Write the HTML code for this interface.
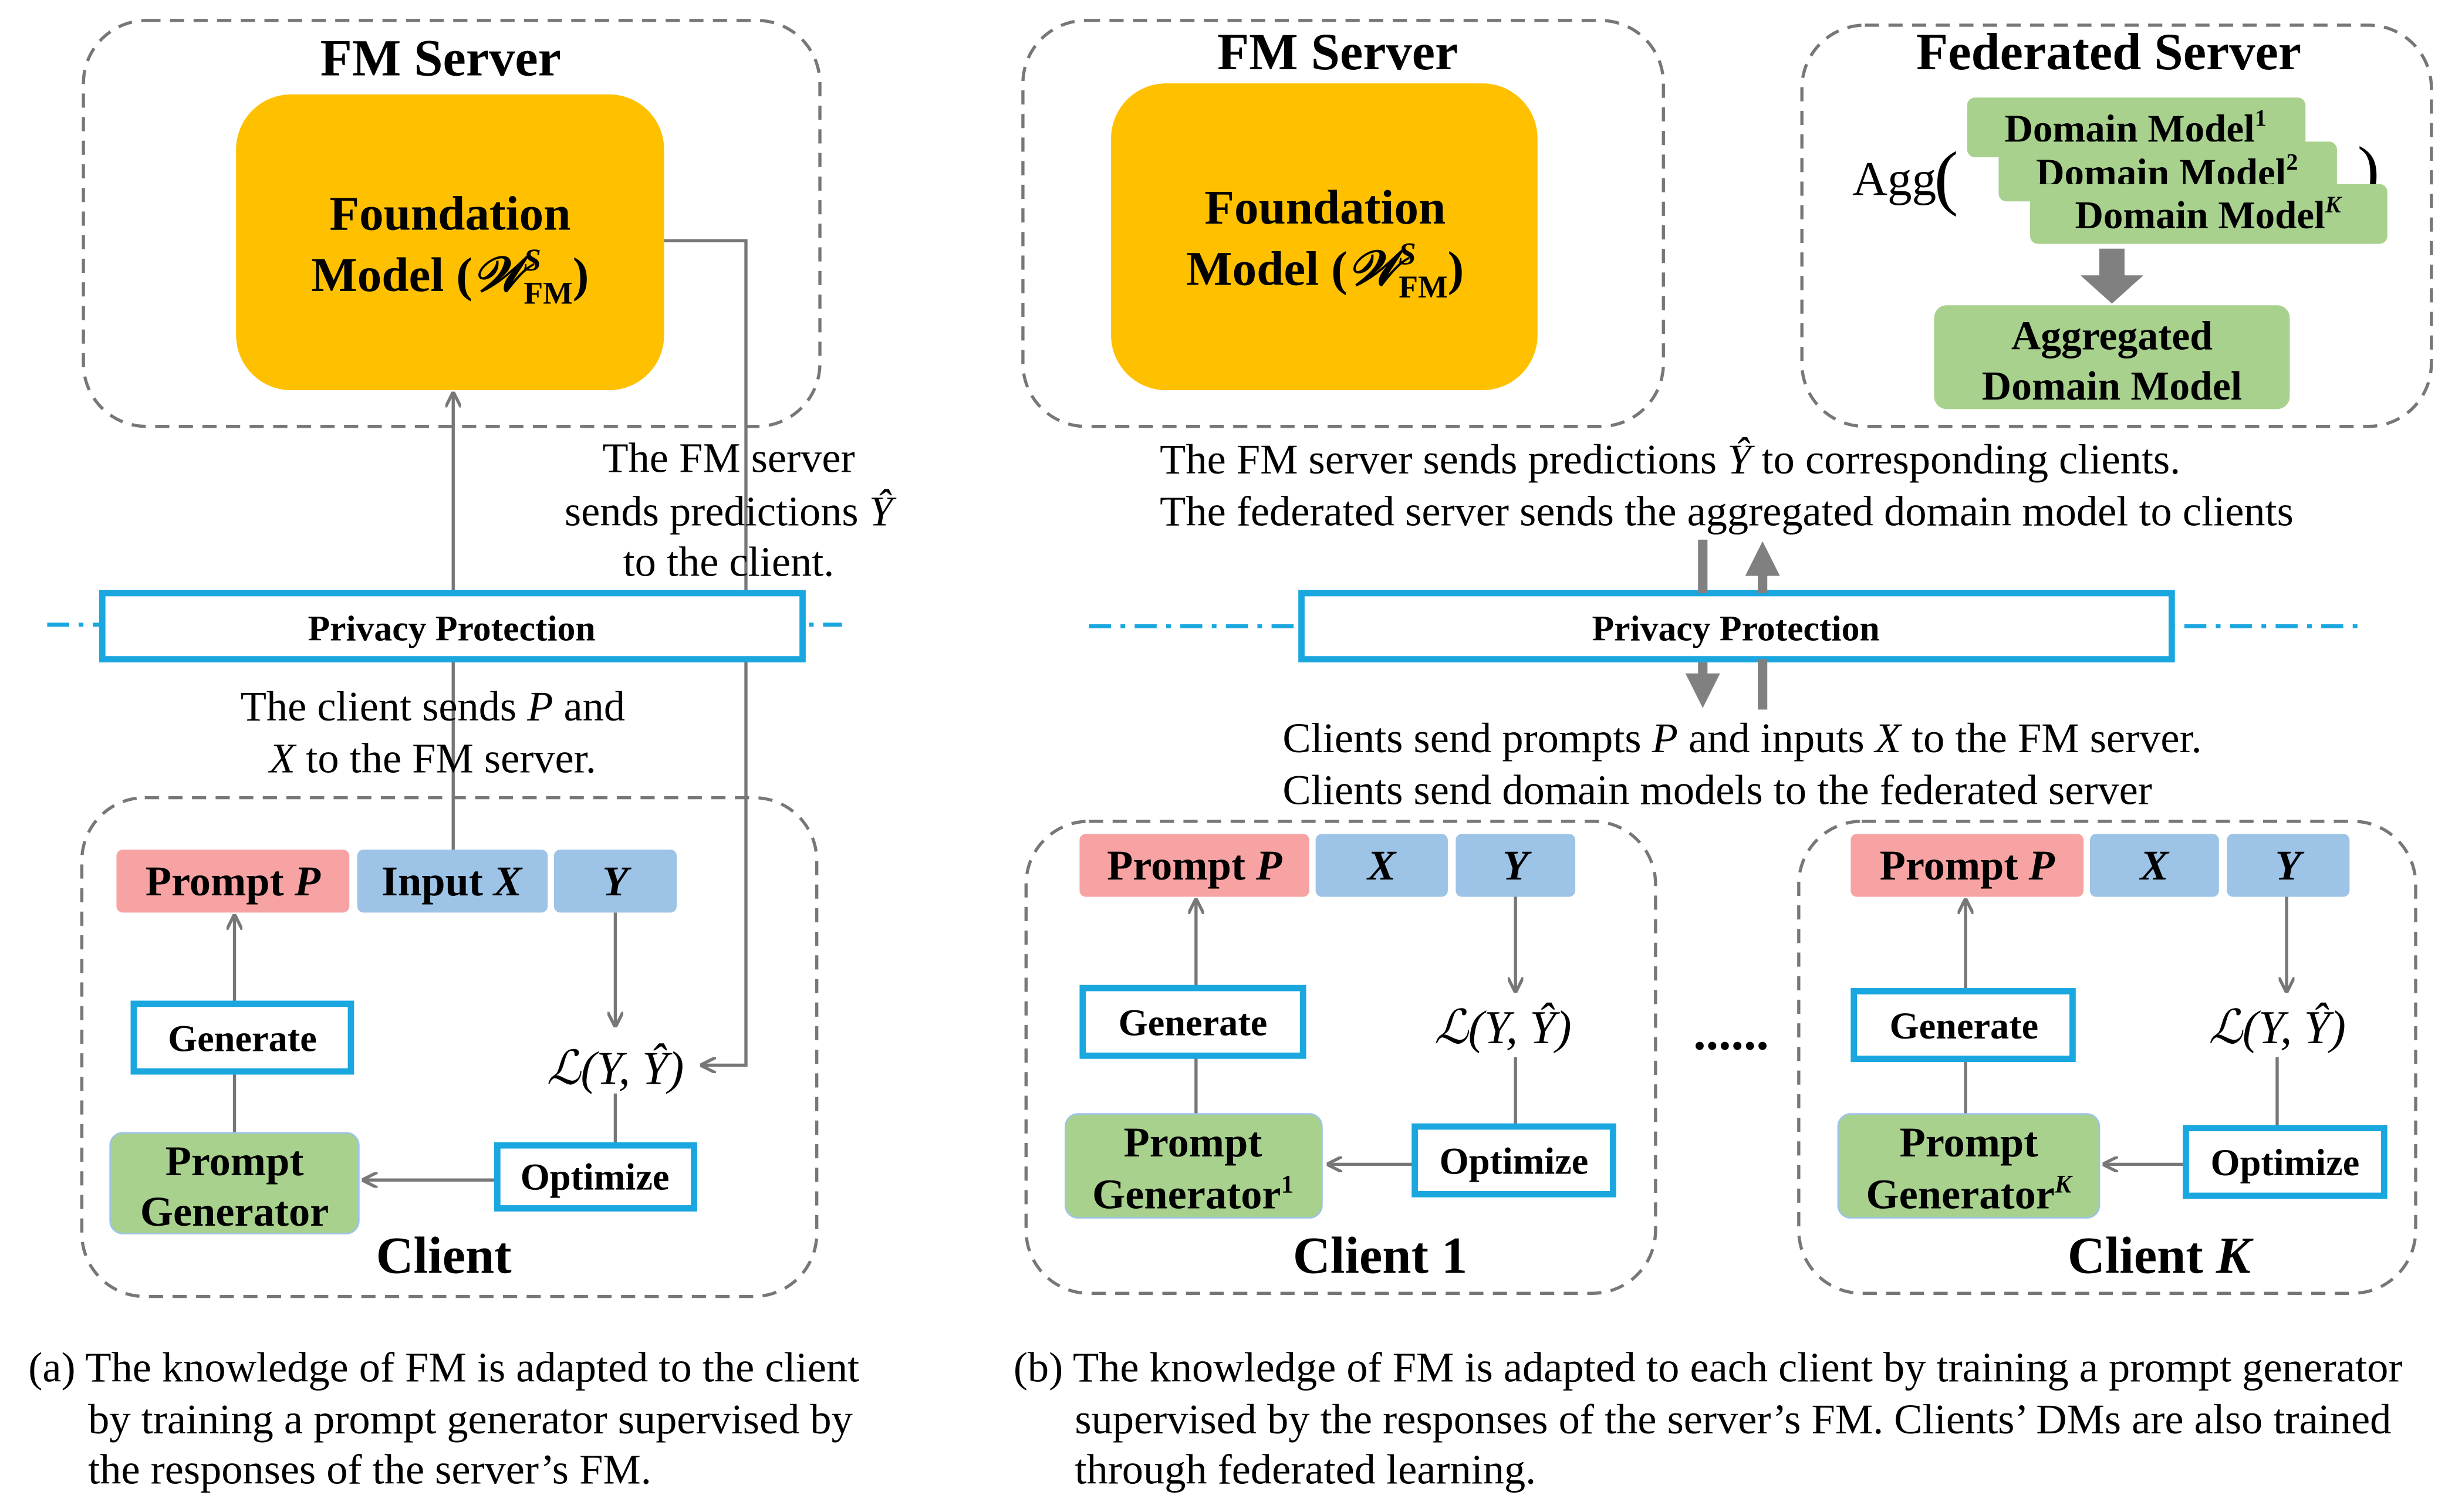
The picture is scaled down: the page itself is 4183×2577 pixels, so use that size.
<!DOCTYPE html>
<html><head><meta charset="utf-8"><style>
html,body{margin:0;padding:0;background:#fff;}
svg{display:block;}
text{font-family:"Liberation Serif",serif;}
.b{font-weight:bold;}
</style></head><body>
<svg width="4183" height="2577" viewBox="0 0 1560 961" preserveAspectRatio="none" xmlns="http://www.w3.org/2000/svg">
<defs>
<marker id="ah" markerWidth="10" markerHeight="10" refX="9" refY="5" orient="auto" markerUnits="userSpaceOnUse"><path d="M0,0 L10,5 L0,10" fill="none" stroke="#777" stroke-width="2"/></marker>
</defs>
<g fill="none" stroke="#777" stroke-width="2" stroke-dasharray="9,6">
<rect x="53" y="13" width="468" height="258" rx="40"/>
<rect x="52" y="507" width="467" height="317" rx="40"/>
<rect x="650" y="13" width="407" height="258" rx="40"/>
<rect x="1145" y="16" width="400" height="255" rx="40"/>
<rect x="652" y="522" width="400" height="300" rx="40"/>
<rect x="1143" y="522" width="392" height="300" rx="40"/>
</g>
<g stroke="#1AA7E0" stroke-width="2.5" stroke-dasharray="14,6,3,6">
<line x1="30" y1="397" x2="535" y2="397"/>
<line x1="692" y1="398" x2="1500" y2="398"/>
</g>
<!-- (a) -->
<text class="b" x="280" y="48" font-size="33" text-anchor="middle">FM Server</text>
<rect x="150" y="60" width="272" height="188" rx="35" fill="#FFC000"/>
<text class="b" x="286" y="146" font-size="31" text-anchor="middle">Foundation</text>
<text class="b" x="286" y="185" font-size="31" text-anchor="middle">Model (<tspan font-style="italic">𝒲</tspan><tspan font-size="20" dy="-13" font-style="italic">S</tspan><tspan font-size="20" dx="-11" dy="21">FM</tspan><tspan dy="-8">)</tspan></text>
<g stroke="#777" stroke-width="2" fill="none">
<line x1="288" y1="540" x2="288" y2="250" marker-end="url(#ah)"/>
<polyline points="422,153 474,153 474,677 446,677" marker-end="url(#ah)"/>
<line x1="149" y1="638" x2="149" y2="582" marker-end="url(#ah)"/>
<line x1="149" y1="681" x2="149" y2="720"/>
<line x1="391" y1="580" x2="391" y2="652" marker-end="url(#ah)"/>
<line x1="391" y1="695" x2="391" y2="728"/>
<line x1="316" y1="750" x2="231" y2="750" marker-end="url(#ah)"/>
</g>
<g font-size="27" text-anchor="middle">
<text x="463" y="300">The FM server</text>
<text x="463" y="334">sends predictions <tspan font-style="italic">Ŷ</tspan></text>
<text x="463" y="366">to the client.</text>
<text x="275" y="458">The client sends <tspan font-style="italic">P</tspan> and</text>
<text x="275" y="491"><tspan font-style="italic">X</tspan> to the FM server.</text>
</g>
<rect x="65" y="377" width="445" height="42" fill="#fff" stroke="#1AA7E0" stroke-width="4"/>
<text class="b" x="287" y="407" font-size="23" text-anchor="middle">Privacy Protection</text>
<rect x="74" y="540" width="148" height="40" rx="4" fill="#F8A3A3"/>
<text class="b" x="148" y="569" font-size="27" text-anchor="middle">Prompt <tspan font-style="italic">P</tspan></text>
<rect x="227" y="540" width="121" height="40" rx="4" fill="#9DC3E6"/>
<text class="b" x="287" y="569" font-size="27" text-anchor="middle">Input <tspan font-style="italic">X</tspan></text>
<rect x="352" y="540" width="78" height="40" rx="4" fill="#9DC3E6"/>
<text class="b" x="391" y="569" font-size="27" text-anchor="middle" font-style="italic">Y</text>
<rect x="85" y="638" width="138" height="43" fill="#fff" stroke="#1AA7E0" stroke-width="4"/>
<text class="b" x="154" y="668" font-size="24" text-anchor="middle">Generate</text>
<rect x="70" y="720" width="158" height="64" rx="8" fill="#A9D18E" stroke="#9DC3E6" stroke-width="1"/>
<text class="b" x="149" y="747" font-size="27" text-anchor="middle">Prompt</text>
<text class="b" x="149" y="779" font-size="27" text-anchor="middle">Generator</text>
<text x="391" y="689" font-size="30" text-anchor="middle" font-style="italic">ℒ(Y, Ŷ)</text>
<rect x="316" y="728" width="125" height="40" fill="#fff" stroke="#1AA7E0" stroke-width="4"/>
<text class="b" x="378" y="756" font-size="24" text-anchor="middle">Optimize</text>
<text class="b" x="282" y="809" font-size="33" text-anchor="middle">Client</text>
<g font-size="27">
<text x="18" y="878">(a) The knowledge of FM is adapted to the client</text>
<text x="56" y="911">by training a prompt generator supervised by</text>
<text x="56" y="943">the responses of the server’s FM.</text>
</g>
<!-- (b) -->
<text class="b" x="850" y="44" font-size="33" text-anchor="middle">FM Server</text>
<rect x="706" y="53" width="271" height="195" rx="35" fill="#FFC000"/>
<text class="b" x="842" y="142" font-size="31" text-anchor="middle">Foundation</text>
<text class="b" x="842" y="181" font-size="31" text-anchor="middle">Model (<tspan font-style="italic">𝒲</tspan><tspan font-size="20" dy="-13" font-style="italic">S</tspan><tspan font-size="20" dx="-11" dy="21">FM</tspan><tspan dy="-8">)</tspan></text>
<text class="b" x="1340" y="44" font-size="33" text-anchor="middle">Federated Server</text>
<text x="1177" y="124" font-size="31">Agg</text>
<text x="1229" y="128" font-size="46">(</text>
<text x="1498" y="122" font-size="42">)</text>
<rect x="1250" y="62" width="215" height="38" rx="5" fill="#A9D18E"/>
<text class="b" x="1357" y="90" font-size="25" text-anchor="middle">Domain Model<tspan font-size="15" dy="-10">1</tspan></text>
<rect x="1270" y="90" width="215" height="38" rx="5" fill="#A9D18E"/>
<text class="b" x="1377" y="118" font-size="25" text-anchor="middle">Domain Model<tspan font-size="15" dy="-10">2</tspan></text>
<rect x="1290" y="117" width="227" height="38" rx="5" fill="#A9D18E"/>
<text class="b" x="1403" y="145" font-size="25" text-anchor="middle">Domain Model<tspan font-size="15" dy="-10" font-style="italic">K</tspan></text>
<polygon points="1334,158 1350,158 1350,175 1362,175 1342,193 1322,175 1334,175" fill="#808080"/>
<rect x="1229" y="194" width="226" height="66" rx="8" fill="#A9D18E"/>
<text class="b" x="1342" y="222" font-size="26" text-anchor="middle">Aggregated</text>
<text class="b" x="1342" y="254" font-size="26" text-anchor="middle">Domain Model</text>
<g font-size="27">
<text x="737" y="301">The FM server sends predictions <tspan font-style="italic">Ŷ</tspan> to corresponding clients.</text>
<text x="737" y="334">The federated server sends the aggregated domain model to clients</text>
<text x="815" y="478">Clients send prompts <tspan font-style="italic">P</tspan> and inputs <tspan font-style="italic">X</tspan> to the FM server.</text>
<text x="815" y="511">Clients send domain models to the federated server</text>
</g>
<rect x="827" y="377" width="553" height="42" fill="#fff" stroke="#1AA7E0" stroke-width="4"/>
<text class="b" x="1103" y="407" font-size="23" text-anchor="middle">Privacy Protection</text>
<!-- thick arrows -->
<rect x="1079" y="343" width="6" height="34" fill="#808080"/>
<polygon points="1079,421 1085,421 1085,428 1093,428 1082,450 1071,428 1079,428" fill="#808080"/>
<rect x="1117" y="419" width="6" height="32" fill="#808080"/>
<polygon points="1117,377 1123,377 1123,366 1131,366 1120,344 1109,366 1117,366" fill="#808080"/>
<!-- clients arrows -->
<g stroke="#777" stroke-width="2" fill="none">
<line x1="760" y1="628" x2="760" y2="572" marker-end="url(#ah)"/>
<line x1="760" y1="671" x2="760" y2="708"/>
<line x1="963" y1="570" x2="963" y2="630" marker-end="url(#ah)"/>
<line x1="963" y1="672" x2="963" y2="716"/>
<line x1="899" y1="740" x2="844" y2="740" marker-end="url(#ah)"/>
<line x1="1249" y1="630" x2="1249" y2="572" marker-end="url(#ah)"/>
<line x1="1249" y1="673" x2="1249" y2="708"/>
<line x1="1453" y1="570" x2="1453" y2="630" marker-end="url(#ah)"/>
<line x1="1447" y1="672" x2="1447" y2="717"/>
<line x1="1389" y1="740" x2="1337" y2="740" marker-end="url(#ah)"/>
</g>
<rect x="686" y="530" width="146" height="40" rx="4" fill="#F8A3A3"/>
<text class="b" x="759" y="559" font-size="27" text-anchor="middle">Prompt <tspan font-style="italic">P</tspan></text>
<rect x="836" y="530" width="84" height="40" rx="4" fill="#9DC3E6"/>
<text class="b" x="878" y="559" font-size="27" text-anchor="middle" font-style="italic">X</text>
<rect x="925" y="530" width="76" height="40" rx="4" fill="#9DC3E6"/>
<text class="b" x="963" y="559" font-size="27" text-anchor="middle" font-style="italic">Y</text>
<rect x="688" y="628" width="140" height="43" fill="#fff" stroke="#1AA7E0" stroke-width="4"/>
<text class="b" x="758" y="658" font-size="24" text-anchor="middle">Generate</text>
<rect x="677" y="708" width="163" height="66" rx="8" fill="#A9D18E" stroke="#9DC3E6" stroke-width="1"/>
<text class="b" x="758" y="735" font-size="27" text-anchor="middle">Prompt</text>
<text class="b" x="758" y="768" font-size="27" text-anchor="middle">Generator<tspan font-size="16" dy="-10">1</tspan></text>
<text x="955" y="663" font-size="30" text-anchor="middle" font-style="italic">ℒ(Y, Ŷ)</text>
<rect x="899" y="716" width="126" height="43" fill="#fff" stroke="#1AA7E0" stroke-width="4"/>
<text class="b" x="962" y="746" font-size="24" text-anchor="middle">Optimize</text>
<text class="b" x="877" y="809" font-size="33" text-anchor="middle">Client 1</text>
<text class="b" x="1100" y="667" font-size="32" text-anchor="middle">......</text>
<rect x="1176" y="530" width="148" height="40" rx="4" fill="#F8A3A3"/>
<text class="b" x="1250" y="559" font-size="27" text-anchor="middle">Prompt <tspan font-style="italic">P</tspan></text>
<rect x="1328" y="530" width="82" height="40" rx="4" fill="#9DC3E6"/>
<text class="b" x="1369" y="559" font-size="27" text-anchor="middle" font-style="italic">X</text>
<rect x="1415" y="530" width="78" height="40" rx="4" fill="#9DC3E6"/>
<text class="b" x="1454" y="559" font-size="27" text-anchor="middle" font-style="italic">Y</text>
<rect x="1178" y="630" width="139" height="43" fill="#fff" stroke="#1AA7E0" stroke-width="4"/>
<text class="b" x="1248" y="660" font-size="24" text-anchor="middle">Generate</text>
<rect x="1168" y="708" width="166" height="66" rx="8" fill="#A9D18E" stroke="#9DC3E6" stroke-width="1"/>
<text class="b" x="1251" y="735" font-size="27" text-anchor="middle">Prompt</text>
<text class="b" x="1251" y="768" font-size="27" text-anchor="middle">Generator<tspan font-size="16" dy="-10" font-style="italic">K</tspan></text>
<text x="1447" y="663" font-size="30" text-anchor="middle" font-style="italic">ℒ(Y, Ŷ)</text>
<rect x="1389" y="717" width="126" height="43" fill="#fff" stroke="#1AA7E0" stroke-width="4"/>
<text class="b" x="1452" y="747" font-size="24" text-anchor="middle">Optimize</text>
<text class="b" x="1372" y="809" font-size="33" text-anchor="middle">Client <tspan font-style="italic">K</tspan></text>
<g font-size="27">
<text x="644" y="878">(b) The knowledge of FM is adapted to each client by training a prompt generator</text>
<text x="683" y="911">supervised by the responses of the server’s FM. Clients’ DMs are also trained</text>
<text x="683" y="943">through federated learning.</text>
</g>
</svg>
</body></html>
